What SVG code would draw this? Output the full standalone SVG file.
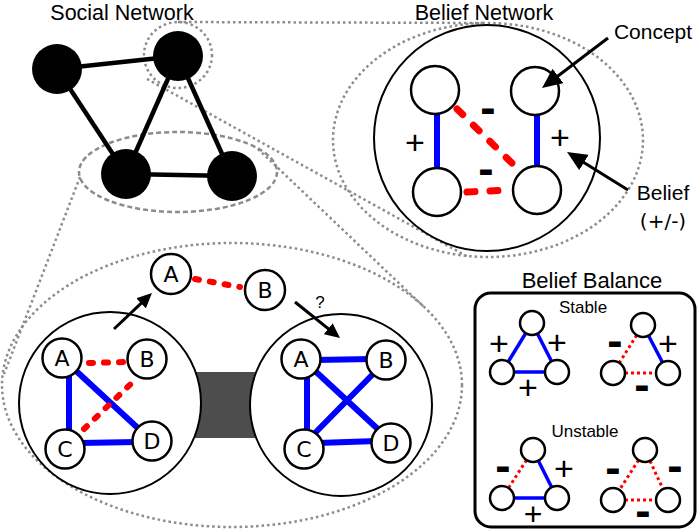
<svg xmlns="http://www.w3.org/2000/svg" width="698" height="529" viewBox="0 0 698 529">
<style>
.title{font-family:"Liberation Sans",Arial,sans-serif;font-size:22px;fill:#000;text-anchor:middle}
.lbl{font-family:"Liberation Sans",Arial,sans-serif;font-size:21px;fill:#000;text-anchor:middle}
.sm{font-family:"Liberation Sans",Arial,sans-serif;font-size:17px;fill:#000;text-anchor:middle}
.let{font-family:"DejaVu Sans",sans-serif;font-size:22px;fill:#000;text-anchor:middle}
.plus{font-family:"Liberation Sans",Arial,sans-serif;font-size:34px;fill:#000;text-anchor:middle}
.minus{font-family:"Liberation Sans",Arial,sans-serif;font-size:46px;font-weight:bold;fill:#000;text-anchor:middle}
.dot{fill:none;stroke:#8c8c8c;stroke-width:2.5;stroke-dasharray:2.5 3}
.dash{fill:none;stroke:#8c8c8c;stroke-width:2.5;stroke-dasharray:5 3}
.sn{stroke:#000;stroke-width:4.5}
.snode{fill:#000}
.big{fill:#fff;stroke:#000;stroke-width:2}
.node{fill:#fff;stroke:#000;stroke-width:2.5}
.pos{stroke:#0000ff;stroke-width:6;fill:none}
.neg{stroke:#ff0000;stroke-width:6;fill:none;stroke-linecap:round;stroke-dasharray:4 11}
.negb{stroke:#ff0000;stroke-width:7;fill:none;stroke-linecap:round;stroke-dasharray:8 15}
.bpos{stroke:#0000ff;stroke-width:3.5;fill:none}
.bneg{stroke:#ff0000;stroke-width:3;fill:none;stroke-dasharray:3 3}
.arr{stroke:#000;stroke-width:3;fill:none}
</style>
<defs>
<marker id="ah" markerUnits="userSpaceOnUse" markerWidth="20" markerHeight="18" refX="12" refY="9" orient="auto" viewBox="0 0 20 18">
<path d="M0,0 L20,9 L0,18 z" fill="#000"/>
</marker>
<marker id="ahs" markerUnits="userSpaceOnUse" markerWidth="15" markerHeight="14" refX="9" refY="7" orient="auto" viewBox="0 0 15 14">
<path d="M0,0 L15,7 L0,14 z" fill="#000"/>
</marker>
</defs>

<!-- zoom outlines and guide lines -->
<g id="zoom-guides">
<ellipse class="dot" cx="488" cy="140" rx="155" ry="117"/>
<ellipse class="dot" cx="232" cy="385" rx="230" ry="142"/>
<ellipse class="dot" cx="178" cy="55" rx="34" ry="33"/>
<ellipse class="dash" cx="178" cy="172" rx="99" ry="40"/>
<line class="dot" x1="178" y1="22" x2="486" y2="23"/>
<line class="dot" x1="147" y1="79" x2="468" y2="257"/>
<line class="dot" x1="80" y1="177" x2="4" y2="374"/>
<line class="dot" x1="258" y1="149" x2="425" y2="308"/>
</g>

<!-- Social network -->
<g id="social-edges">
<line class="sn" x1="57" y1="69" x2="178" y2="56"/>
<line class="sn" x1="57" y1="69" x2="126" y2="174"/>
<line class="sn" x1="178" y1="56" x2="126" y2="174"/>
<line class="sn" x1="178" y1="56" x2="232" y2="176"/>
<line class="sn" x1="126" y1="174" x2="232" y2="176"/>
</g>
<g id="social-node-1"><circle class="snode" cx="57" cy="69" r="25"/></g>
<g id="social-node-2"><circle class="snode" cx="178" cy="56" r="25"/></g>
<g id="social-node-3"><circle class="snode" cx="126" cy="174" r="25"/></g>
<g id="social-node-4"><circle class="snode" cx="232" cy="176" r="25"/></g>
<text class="title" x="122" y="20" style="font-size:21.5px">Social Network</text>

<!-- Belief network -->
<text class="title" x="484" y="20" style="font-size:21.5px">Belief Network</text>
<g id="belief-network">
<circle class="big" cx="487" cy="138" r="113"/>
</g>
<g id="belief-edges">
<line class="pos" x1="437" y1="100" x2="437" y2="180"/>
<line class="pos" x1="537" y1="100" x2="537" y2="180"/>
<line class="negb" x1="457" y1="109" x2="519" y2="170"/>
<line class="negb" x1="467" y1="192" x2="510" y2="190"/>
</g>
<g id="concept-tl"><circle class="node" cx="435" cy="90" r="24"/></g>
<g id="concept-tr"><circle class="node" cx="535" cy="91" r="24"/></g>
<g id="concept-bl"><circle class="node" cx="437" cy="192" r="24"/></g>
<g id="concept-br"><circle class="node" cx="537" cy="190" r="24"/></g>
<text class="plus" x="415" y="153.5">+</text>
<text class="plus" x="560" y="148.5">+</text>
<text class="minus" x="488" y="123">-</text>
<text class="minus" x="486" y="184">-</text>
<g id="concept-label">
<text class="lbl" x="653" y="39">Concept</text>
</g>
<g id="belief-label">
<text class="lbl" x="663" y="200">Belief</text>
<text class="lbl" x="663" y="228" style="font-family:'DejaVu Sans',sans-serif;font-size:20px">(+/-)</text>
</g>
<g id="annotation-arrows">
<line class="arr" x1="608" y1="38" x2="548.4" y2="83.2" marker-end="url(#ah)"/>
<line class="arr" x1="628" y1="190" x2="573.8" y2="156.2" marker-end="url(#ah)"/>
</g>

<!-- Bottom: interaction -->
<rect id="link-band" x="190" y="372" width="70" height="66" fill="#4d4d4d"/>
<g id="left-agent"><circle class="big" cx="110" cy="403" r="91"/></g>
<g id="right-agent"><circle class="big" cx="341" cy="405" r="91"/></g>
<g id="agent-edges">
<line class="pos" x1="69" y1="370" x2="69" y2="436"/>
<line class="pos" x1="74" y1="369" x2="140" y2="430"/>
<line class="pos" x1="80" y1="443" x2="137" y2="442"/>
<line class="neg" x1="89" y1="363" x2="125" y2="362"/>
<line class="neg" x1="84" y1="429" x2="138" y2="377"/>
<line class="pos" x1="315" y1="360" x2="372" y2="359"/>
<line class="pos" x1="307" y1="372" x2="307" y2="436"/>
<line class="pos" x1="313" y1="369" x2="381" y2="432"/>
<line class="pos" x1="374" y1="373" x2="314" y2="434"/>
<line class="pos" x1="318" y1="443" x2="377" y2="441"/>
<line class="neg" x1="195" y1="279" x2="240" y2="287"/>
</g>
<g id="left-A"><circle class="node" cx="62" cy="358" r="19.5"/><text class="let" x="62" y="366">A</text></g>
<g id="left-B"><circle class="node" cx="147" cy="359" r="19.5"/><text class="let" x="147" y="367">B</text></g>
<g id="left-C"><circle class="node" cx="65" cy="449" r="19.5"/><text class="let" x="65" y="457">C</text></g>
<g id="left-D"><circle class="node" cx="152" cy="441" r="19.5"/><text class="let" x="152" y="449">D</text></g>
<g id="right-A"><circle class="node" cx="301" cy="359" r="19.5"/><text class="let" x="301" y="367">A</text></g>
<g id="right-B"><circle class="node" cx="386" cy="360" r="19.5"/><text class="let" x="386" y="368">B</text></g>
<g id="right-C"><circle class="node" cx="304" cy="449" r="19.5"/><text class="let" x="304" y="457">C</text></g>
<g id="right-D"><circle class="node" cx="391" cy="443" r="19.5"/><text class="let" x="391" y="451">D</text></g>
<g id="shared-A"><circle class="node" cx="171" cy="274" r="20"/><text class="let" x="171" y="282">A</text></g>
<g id="shared-B"><circle class="node" cx="265" cy="290" r="20"/><text class="let" x="265" y="298">B</text></g>
<g id="bottom-arrows">
<line class="arr" x1="114" y1="329" x2="147.6" y2="297.1" marker-end="url(#ahs)"/>
<line class="arr" x1="295" y1="302" x2="335.3" y2="334.3" marker-end="url(#ahs)"/>
<text class="sm" x="320" y="308">?</text>
</g>

<!-- Belief balance -->
<text class="title" x="592" y="288">Belief Balance</text>
<g id="belief-balance">
<rect x="475" y="293" width="220" height="234" rx="16" ry="16" fill="#fff" stroke="#000" stroke-width="3"/>
<text class="sm" x="583" y="313">Stable</text>
<text class="sm" x="585" y="437">Unstable</text>
</g>
<g id="stable-1">
<line class="bpos" x1="532" y1="323" x2="502" y2="372"/>
<line class="bpos" x1="532" y1="323" x2="557" y2="372"/>
<line class="bpos" x1="502" y1="372" x2="557" y2="372"/>
<circle class="node" cx="532" cy="323" r="12"/>
<circle class="node" cx="502" cy="372" r="12"/>
<circle class="node" cx="557" cy="372" r="12"/>
<text class="plus" x="499" y="354.5">+</text>
<text class="plus" x="557" y="353.5">+</text>
<text class="plus" x="528" y="398.5">+</text>
</g>
<g id="stable-2">
<line class="bneg" x1="643" y1="325" x2="613" y2="373"/>
<line class="bpos" x1="643" y1="325" x2="668" y2="373"/>
<line class="bneg" x1="613" y1="373" x2="668" y2="373"/>
<circle class="node" cx="643" cy="325" r="12"/>
<circle class="node" cx="613" cy="373" r="12"/>
<circle class="node" cx="668" cy="373" r="12"/>
<text class="minus" x="615" y="356">-</text>
<text class="plus" x="668" y="354.5">+</text>
<text class="minus" x="642" y="400">-</text>
</g>
<g id="unstable-1">
<line class="bneg" x1="533" y1="450" x2="502" y2="498"/>
<line class="bpos" x1="533" y1="450" x2="557" y2="498"/>
<line class="bpos" x1="502" y1="498" x2="557" y2="498"/>
<circle class="node" cx="533" cy="450" r="12"/>
<circle class="node" cx="502" cy="498" r="12"/>
<circle class="node" cx="557" cy="498" r="12"/>
<text class="minus" x="503" y="481">-</text>
<text class="plus" x="564" y="479.5">+</text>
<text class="plus" x="533" y="525" style="font-size:32px">+</text>
</g>
<g id="unstable-2">
<line class="bneg" x1="645" y1="450" x2="613" y2="500"/>
<line class="bneg" x1="645" y1="450" x2="668" y2="500"/>
<line class="bneg" x1="613" y1="500" x2="668" y2="500"/>
<circle class="node" cx="645" cy="450" r="12"/>
<circle class="node" cx="613" cy="500" r="12"/>
<circle class="node" cx="668" cy="500" r="12"/>
<text class="minus" x="613" y="483">-</text>
<text class="minus" x="675" y="481">-</text>
<text class="minus" x="643" y="526">-</text>
</g>
</svg>
